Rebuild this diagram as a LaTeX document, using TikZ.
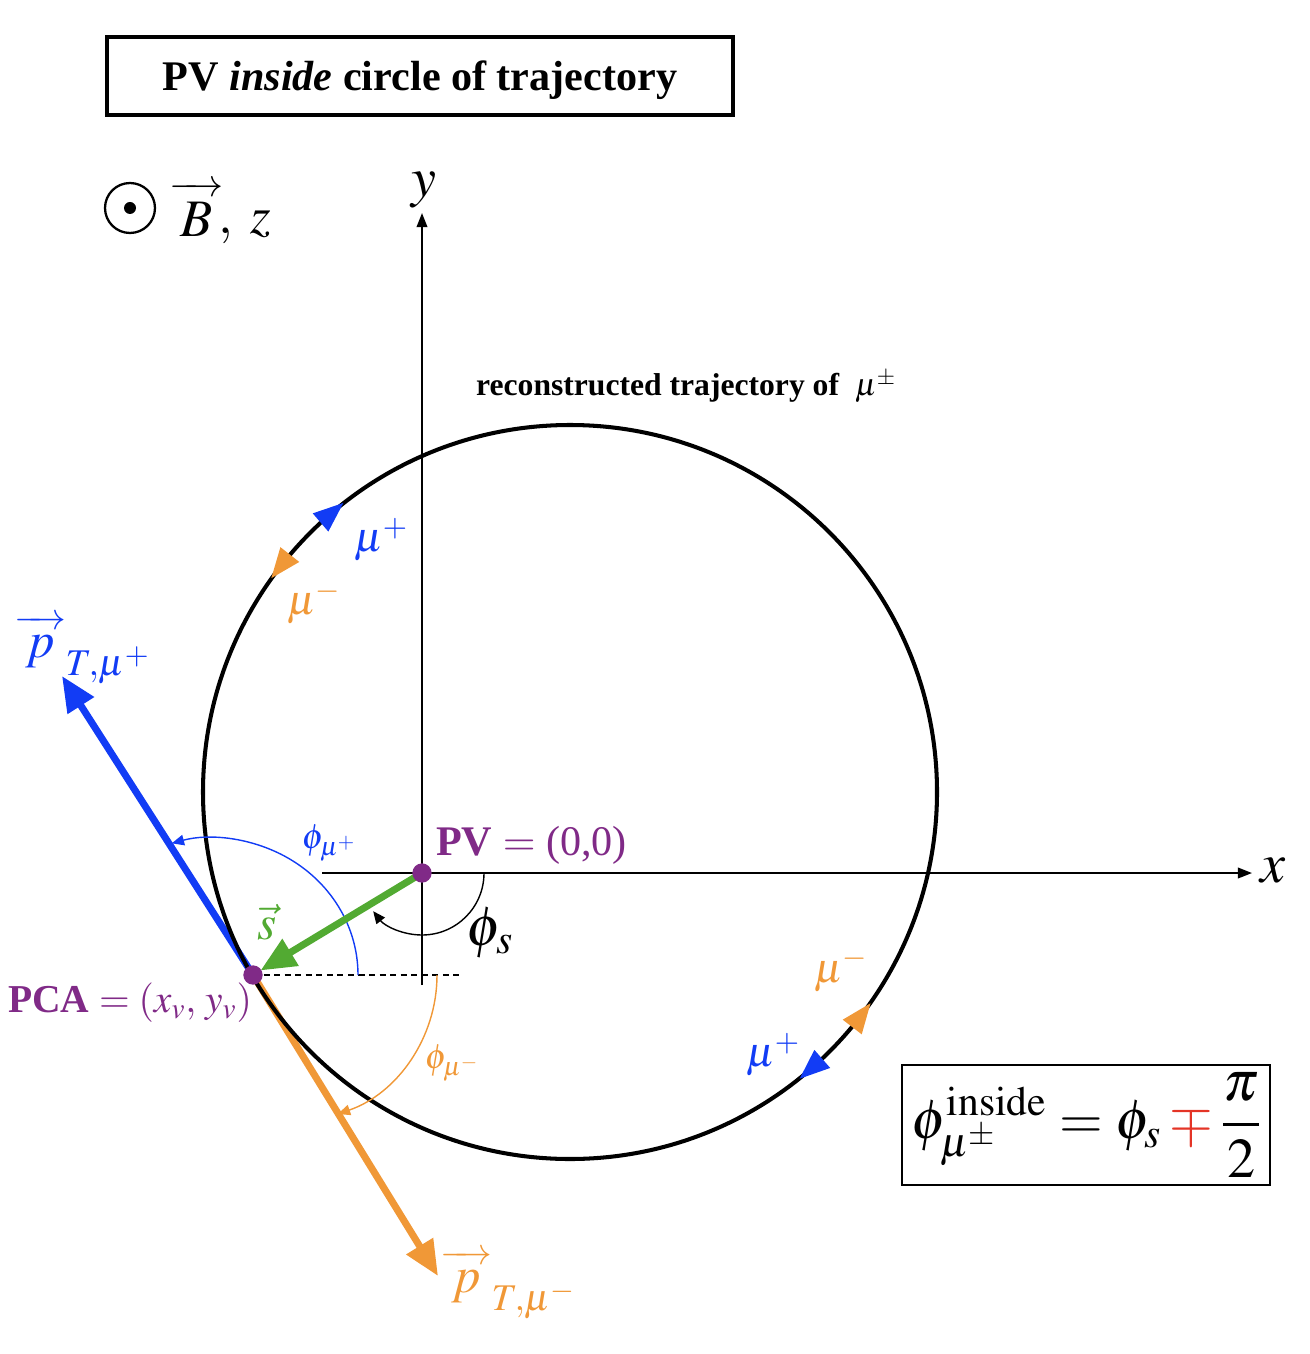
\documentclass[tikz,border=0pt]{standalone}
\usepackage{mathptmx}
\usepackage{fontspec}
\setmainfont{Liberation Serif}
\usetikzlibrary{arrows.meta}
\definecolor{mblue}{RGB}{18,60,245}
\definecolor{morange}{RGB}{240,152,55}
\definecolor{mgreen}{RGB}{82,170,50}
\definecolor{mpurple}{RGB}{128,42,135}
\definecolor{mred}{RGB}{228,52,38}
\newcommand{\fsz}[1]{\fontsize{#1pt}{#1pt}\selectfont}
\newcommand{\lvec}[1]{\mathord{\stackrel{\hbox to 0pt{\hss\raisebox{-2.5pt}[\height][0pt]{$\scriptstyle\relbar\mkern-7mu\rightarrow$}\hss}}{#1}}}
\tikzset{
  axisline/.style={line width=1.1pt, -{Triangle[length=8pt,width=6pt]}},
  momentum/.style={line width=4pt, -{Triangle[length=20pt,width=17pt]}},
  anglearc/.style={line width=0.8pt, -{Triangle[length=7pt,width=6pt]}},
  dotnode/.style={circle, fill=mpurple, inner sep=0pt, minimum size=11pt},
  lbl/.style={inner sep=1pt}
}
\begin{document}
\begin{tikzpicture}[x=0.02cm,y=0.02cm]
\useasboundingbox (0,0) rectangle (1310,-1354);
% key coordinates
\coordinate (C) at (570,-792);
\coordinate (PVc) at (422,-873);
\coordinate (PCAc) at (253,-975);
\coordinate (xs) at (322,-873);
\coordinate (xe) at (1252,-873);
\coordinate (ys) at (422,-985);
\coordinate (ye) at (422,-213);
\coordinate (dashend) at (462,-975);
\coordinate (ptp) at (62,-676);
\coordinate (ptm) at (438,-1276);

% title
\node[draw, line width=1.8pt, minimum width=12.52cm, minimum height=1.56cm, inner sep=0pt, text depth=0pt] (title) at (420,-76)
  {\fsz{24}\bfseries PV \textit{inside} circle of trajectory};

% legend
\node[circle, draw, line width=1.3pt, minimum size=1cm, inner sep=0pt] (odot) at (130,-208) {};
\fill (odot.center) circle[radius=6];
\node[lbl, anchor=west] (Blbl) at (178,-208) {\fsz{30}$\lvec{B}\,,\;z$};

% axes
\draw[axisline] (xs) -- (xe);
\draw[axisline] (ys) -- (ye);
\node[lbl] (ylbl) at (424,-190) {\fsz{32}$y$};
\node[lbl] (xlbl) at (1273,-871) {\fsz{32}$x$};

% dashed reference line
\draw[line width=1pt, dash pattern=on 3.5pt off 2.5pt] (PCAc) -- (dashend);

% momentum arrows
\draw[momentum, mblue] (PCAc) -- (ptp);
\draw[momentum, morange] (PCAc) -- (ptm);

% trajectory circle
\draw[line width=2.3pt] (C) circle[radius=367];
\node[lbl] (trajlbl) at (686,-387) {\fsz{18}\textbf{reconstructed trajectory of}\ \ $\mu^{\pm}$};

% direction markers on circle
\fill[mblue, shift={(C)}, rotate=130.6, shift={(367,0)}, rotate=-90] (16,0) -- (-14,12) -- (-14,-12) -- cycle;
\fill[morange, shift={(C)}, rotate=141.9, shift={(367,0)}, rotate=90] (16,0) -- (-14,12) -- (-14,-12) -- cycle;
\fill[morange, shift={(C)}, rotate=-37.6, shift={(367,0)}, rotate=90] (16,0) -- (-14,12) -- (-14,-12) -- cycle;
\fill[mblue, shift={(C)}, rotate=-48.8, shift={(367,0)}, rotate=-90] (16,0) -- (-14,12) -- (-14,-12) -- cycle;
\node[lbl, mblue] (mup1) at (381,-540) {\fsz{24}$\mu^{+}$};
\node[lbl, morange] (mum1) at (314,-603) {\fsz{24}$\mu^{-}$};
\node[lbl, morange] (mum2) at (841,-970) {\fsz{24}$\mu^{-}$};
\node[lbl, mblue] (mup2) at (773,-1055) {\fsz{24}$\mu^{+}$};

% angle arcs
\draw[anglearc] (PVc) ++(0:62) arc[start angle=0, end angle=-142, radius=62];
\draw[anglearc, mblue] (358,-975) arc[start angle=0, end angle=106, x radius=146, y radius=137];
\draw[anglearc, morange] (437,-975) arc[start angle=0, end angle=-71, radius=147];

% s vector
\draw[line width=4pt, mgreen, -{Triangle[length=20pt,width=17pt]}, shorten >=5pt] (PVc) -- (PCAc);

% points
\node[dotnode] (PV) at (PVc) {};
\node[dotnode] (PCA) at (PCAc) {};

% labels
\node[lbl, mblue] (ptplbl) at (88,-645) {\fsz{29}$\lvec{p}_{\kern6pt T,\mu^{+}}$};
\node[lbl, morange] (ptmlbl) at (514,-1280) {\fsz{29}$\lvec{p}_{\kern6pt T,\mu^{-}}$};
\node[lbl, mblue] (phiplbl) at (329,-843) {\fsz{20}$\phi_{\mu^{+}}$};
\node[lbl, morange] (phimlbl) at (452,-1063) {\fsz{20}$\phi_{\mu^{-}}$};
\node[lbl, mpurple, anchor=west] (PVlbl) at (434,-845) {\fsz{24}\textbf{PV} $=$ (0,0)};
\node[lbl] (phislbl) at (490,-933) {\fsz{32}$\phi_s$};
\node[lbl, mgreen] (slbl) at (267,-922) {\fsz{28}$\vec{s}$};
\node[lbl, mpurple, anchor=east] (PCAlbl) at (254,-1003) {\fsz{22.5}\textbf{PCA} $= (x_v,\, y_v)$};

% formula box
\node[draw, line width=1.2pt, minimum width=7.36cm, minimum height=2.4cm, inner sep=0pt] (formula) at (1086,-1125)
  {\fsz{32}$\displaystyle \phi_{\mu^{\pm}}^{\mathrm{inside}} = \phi_s \mathbin{\textcolor{mred}{\mp}} \frac{\pi}{2}$};
\end{tikzpicture}
\end{document}
